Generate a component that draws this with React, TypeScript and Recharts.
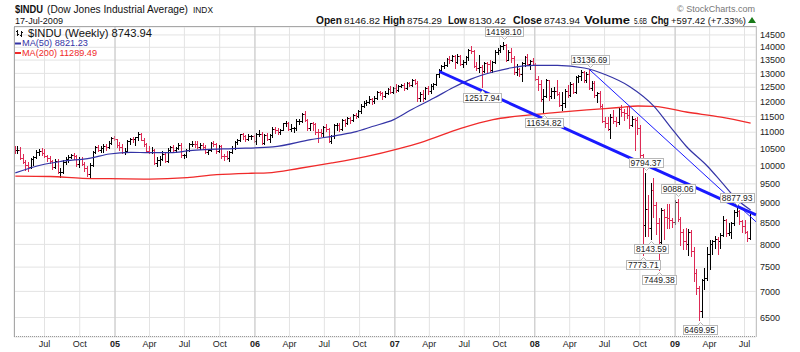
import React from 'react';
import {
  Bar,
  CartesianGrid,
  ComposedChart,
  Line,
  ReferenceDot,
  ReferenceLine,
  XAxis,
  YAxis,
} from 'recharts';

const FONT = 'Liberation Sans, Arial, sans-serif';
const UP_COLOR = '#000000';
const DOWN_COLOR = '#dd2a55';
const MA50_COLOR = '#3434a6';
const MA200_COLOR = '#f02a2a';
const TREND_COLOR = '#1a1aff';

// first weekly bar (Friday); one row per week after that
const FIRST_WEEK = '2004-04-16';

// weekly [open, high, low, close]
const weeks2004 = [
  [10480, 10560, 10380, 10451], [10451, 10570, 10380, 10472], [10472, 10520, 10220, 10225],
  [10225, 10340, 10100, 10117], [10117, 10160, 9900, 10012], [10012, 10090, 9860, 9966],
  [9966, 10220, 9950, 10188], [10188, 10270, 10050, 10242], [10242, 10440, 10230, 10410],
  [10410, 10480, 10340, 10416], [10416, 10500, 10340, 10371], [10371, 10460, 10260, 10282],
  [10282, 10300, 10160, 10213], [10213, 10260, 10090, 10140], [10140, 10150, 9920, 9962],
  [9962, 10170, 9940, 10140], [10140, 10190, 9800, 9815], [9815, 9930, 9710, 9825],
  [9825, 10140, 9810, 10111], [10111, 10230, 10070, 10195], [10195, 10300, 10120, 10260],
  [10260, 10340, 10230, 10314], [10314, 10360, 10200, 10284], [10284, 10290, 10020, 10047],
  [10047, 10230, 9990, 10192], [10192, 10240, 10040, 10055], [10055, 10090, 9880, 9933],
  [9933, 9990, 9740, 9758], [9758, 10060, 9710, 10027], [10027, 10400, 10020, 10387],
  [10387, 10560, 10370, 10539], [10539, 10580, 10440, 10457], [10457, 10560, 10420, 10522],
  [10522, 10610, 10420, 10592], [10592, 10630, 10470, 10543], [10543, 10710, 10530, 10661],
  [10661, 10840, 10650, 10828], [10828, 10870, 10760, 10783],
];

const weeks2005 = [
  [10783, 10790, 10570, 10603], [10603, 10670, 10480, 10558], [10558, 10620, 10390, 10393],
  [10393, 10500, 10360, 10427], [10427, 10730, 10420, 10716], [10716, 10800, 10660, 10796],
  [10796, 10840, 10720, 10785], [10785, 10850, 10610, 10841], [10841, 10980, 10780, 10941],
  [10941, 10960, 10760, 10774], [10774, 10800, 10600, 10630], [10630, 10660, 10420, 10442],
  [10442, 10560, 10370, 10404], [10404, 10520, 10380, 10461], [10461, 10470, 10070, 10088],
  [10088, 10230, 10000, 10157], [10157, 10260, 10050, 10193], [10193, 10400, 10180, 10345],
  [10345, 10370, 10120, 10140], [10140, 10490, 10120, 10471], [10471, 10560, 10450, 10542],
  [10542, 10580, 10430, 10460], [10460, 10540, 10400, 10513], [10513, 10650, 10490, 10623],
  [10623, 10640, 10280, 10297], [10297, 10330, 10250, 10303], [10303, 10470, 10260, 10449],
  [10449, 10660, 10440, 10640], [10640, 10720, 10590, 10651], [10651, 10720, 10570, 10641],
  [10641, 10710, 10540, 10558], [10558, 10660, 10510, 10600], [10600, 10640, 10500, 10559],
  [10559, 10580, 10380, 10397], [10397, 10480, 10360, 10447], [10447, 10690, 10440, 10679],
  [10679, 10720, 10590, 10641], [10641, 10650, 10380, 10420], [10420, 10590, 10400, 10569],
  [10569, 10600, 10250, 10292], [10292, 10340, 10170, 10287], [10287, 10420, 10200, 10215],
  [10215, 10420, 10140, 10403], [10403, 10550, 10390, 10531], [10531, 10700, 10500, 10686],
  [10686, 10790, 10640, 10766], [10766, 10940, 10750, 10931], [10931, 10960, 10810, 10878],
  [10878, 10900, 10740, 10779], [10779, 10920, 10760, 10876], [10876, 10910, 10820, 10883],
  [10883, 10900, 10710, 10718],
];

const weeks2006 = [
  [10718, 10970, 10660, 10959], [10959, 11050, 10890, 10960], [10960, 10990, 10660, 10668],
  [10668, 10930, 10640, 10908], [10908, 10960, 10770, 10794], [10794, 10940, 10710, 10920],
  [10920, 11140, 10860, 11116], [11116, 11140, 10980, 11062], [11062, 11120, 10960, 11022],
  [11022, 11100, 10960, 11077], [11077, 11290, 11070, 11280], [11280, 11330, 11210, 11280],
  [11280, 11320, 11100, 11109], [11109, 11240, 11060, 11120], [11120, 11150, 11010, 11137],
  [11137, 11400, 11090, 11347], [11347, 11400, 11260, 11367], [11367, 11590, 11340, 11578],
  [11578, 11670, 11370, 11381], [11381, 11390, 11080, 11144], [11144, 11290, 11070, 11278],
  [11278, 11320, 11100, 11247], [11247, 11260, 10960, 11001], [11001, 11070, 10700, 10999],
  [10999, 11070, 10890, 10989], [10989, 11190, 10880, 11150], [11150, 11240, 11050, 11091],
  [11091, 11110, 10720, 10739], [10739, 10900, 10680, 10868], [10868, 11250, 10850, 11220],
  [11220, 11290, 11100, 11241], [11241, 11270, 11040, 11088], [11088, 11400, 11080, 11382],
  [11382, 11400, 11210, 11285], [11285, 11480, 11270, 11464], [11464, 11470, 11310, 11393],
  [11393, 11580, 11380, 11560], [11560, 11600, 11460, 11508], [11508, 11700, 11490, 11679],
  [11679, 11890, 11650, 11867], [11867, 11990, 11830, 11961], [11961, 12050, 11900, 12002],
  [12002, 12170, 11980, 12091], [12091, 12110, 11930, 12032], [12032, 12160, 11980, 12108],
  [12108, 12350, 12090, 12343], [12343, 12360, 12240, 12280], [12280, 12310, 12100, 12194],
  [12194, 12340, 12190, 12307], [12307, 12470, 12290, 12446], [12446, 12520, 12330, 12344],
  [12344, 12500, 12330, 12463],
];

const weeks2007 = [
  [12463, 12590, 12350, 12398], [12398, 12560, 12380, 12556], [12556, 12610, 12510, 12566],
  [12566, 12620, 12420, 12487], [12487, 12670, 12440, 12653], [12653, 12680, 12560, 12581],
  [12581, 12780, 12560, 12768], [12768, 12790, 12620, 12648], [12648, 12700, 12050, 12114],
  [12114, 12330, 12040, 12277], [12277, 12370, 12040, 12111], [12111, 12490, 12090, 12481],
  [12481, 12520, 12290, 12354], [12354, 12580, 12320, 12560], [12560, 12640, 12450, 12612],
  [12612, 12970, 12600, 12962], [12962, 13140, 12900, 13121], [13121, 13290, 13080, 13264],
  [13264, 13420, 13210, 13327], [13327, 13560, 13290, 13556], [13556, 13640, 13400, 13507],
  [13507, 13690, 13470, 13668], [13668, 13690, 13230, 13424], [13424, 13700, 13400, 13640],
  [13640, 13690, 13340, 13361], [13361, 13480, 13250, 13409], [13409, 13620, 13380, 13611],
  [13611, 13930, 13520, 13908], [13908, 14020, 13780, 13851], [13851, 13890, 13240, 13266],
  [13266, 13420, 13150, 13182], [13182, 13660, 13080, 13240], [13240, 13300, 12517.94, 13079],
  [13079, 13400, 13060, 13379], [13379, 13420, 13040, 13358], [13358, 13480, 13100, 13113],
  [13113, 13460, 13060, 13442], [13442, 13870, 13420, 13820], [13820, 13950, 13760, 13896],
  [13896, 14080, 13850, 14066], [14066, 14198.1, 13970, 14093], [14093, 14100, 13500, 13522],
  [13522, 13880, 13510, 13807], [13807, 13950, 13450, 13596], [13596, 13620, 13000, 13043],
  [13043, 13340, 12950, 13177], [13177, 13200, 12940, 12981], [12981, 13400, 12740, 13372],
  [13372, 13640, 13300, 13626], [13626, 13730, 13320, 13340], [13340, 13470, 13170, 13451],
  [13451, 13560, 13360, 13366],
];

const weeks2008 = [
  [13366, 13370, 12790, 12801], [12801, 12900, 12420, 12607], [12607, 12740, 12050, 12100],
  [12100, 12430, 11634.82, 12207], [12207, 12780, 12170, 12743], [12743, 12750, 12080, 12183],
  [12183, 12440, 12150, 12349], [12349, 12480, 12150, 12381], [12381, 12740, 12260, 12266],
  [12266, 12300, 11860, 11894], [11894, 12300, 11730, 11951], [11951, 12420, 11850, 12361],
  [12361, 12550, 12190, 12216], [12216, 12650, 12200, 12609], [12609, 12630, 12300, 12325],
  [12325, 12880, 12300, 12849], [12849, 12930, 12700, 12891], [12891, 13100, 12780, 13058],
  [13058, 13070, 12710, 12745], [12745, 13030, 12700, 12986], [12986, 13136.69, 12460, 12480],
  [12480, 12700, 12430, 12638], [12638, 12700, 12180, 12209], [12209, 12330, 12000, 12307],
  [12307, 12340, 11830, 11843], [11843, 11900, 11330, 11346], [11346, 11480, 11180, 11288],
  [11288, 11460, 11090, 11101], [11101, 11570, 10827, 11496], [11496, 11700, 11300, 11370],
  [11370, 11470, 11220, 11326], [11326, 11790, 11290, 11734], [11734, 11870, 11540, 11659],
  [11659, 11740, 11400, 11628], [11628, 11790, 11470, 11544], [11544, 11790, 11150, 11220],
  [11220, 11500, 11200, 11422], [11422, 11430, 10460, 11388], [11388, 11470, 10970, 11143],
  [11143, 11200, 10270, 10325], [10325, 10330, 7773.71, 8451], [8451, 9794.37, 8200, 8852],
  [8852, 9200, 8200, 8378], [8378, 9500, 8143.59, 9325], [9325, 9650, 8650, 8943],
  [8943, 9000, 8250, 8497], [8497, 8600, 7449.38, 8046], [8046, 8860, 7990, 8829],
  [8829, 8830, 8140, 8635], [8635, 8970, 8400, 8629], [8629, 8950, 8400, 8579],
  [8579, 8600, 8410, 8515],
];

const weeks2009 = [
  [8515, 9060, 8480, 9034], [9034, 9088.06, 8560, 8599], [8599, 8640, 8000, 8281],
  [8281, 8350, 7900, 8077], [8077, 8370, 7910, 8000], [8000, 8340, 7780, 8280],
  [8280, 8320, 7750, 7850], [7850, 7920, 7230, 7366], [7366, 7450, 6950, 7063],
  [7063, 7100, 6469.95, 6627], [6627, 7240, 6520, 7224], [7224, 7480, 7050, 7279],
  [7279, 7930, 7250, 7776], [7776, 8080, 7470, 8018], [8018, 8100, 7800, 8083],
  [8083, 8170, 7920, 8131], [8131, 8150, 7800, 8076], [8076, 8260, 7920, 8212],
  [8212, 8650, 8200, 8575], [8575, 8590, 8200, 8268], [8268, 8480, 8220, 8277],
  [8277, 8520, 8150, 8500], [8500, 8800, 8460, 8764], [8764, 8877.93, 8680, 8799],
  [8799, 8800, 8480, 8539], [8539, 8560, 8300, 8438], [8438, 8570, 8270, 8280],
  [8280, 8290, 8090, 8146], [8146.82, 8754.29, 8130.42, 8743.94],
];

// moving averages at a handful of weeks (week index -> value)
const ma50Weeks = [0, 10, 17, 28, 35, 43, 50, 58, 65, 71, 81, 96, 110, 121, 127, 133, 141, 147, 156, 163, 170, 178, 185, 193, 202, 212, 220, 229, 238, 244, 250, 258, 263, 269, 274];
const ma50Values = [9800, 10030, 10125, 10220, 10340, 10390, 10380, 10380, 10440, 10470, 10500, 10550, 10770, 10920, 11020, 11180, 11400, 11700, 12120, 12480, 12800, 13050, 13210, 13300, 13300, 13200, 12950, 12520, 11840, 11180, 10570, 9980, 9560, 9080, 8821.23];
const ma200Weeks = [0, 13, 25, 35, 50, 64, 75, 88, 94, 106, 118, 131, 143, 151, 166, 178, 191, 200, 213, 225, 232, 238, 250, 263, 274];
const ma200Values = [9710, 9700, 9650, 9640, 9630, 9670, 9750, 9790, 9800, 9930, 10080, 10270, 10500, 10680, 11120, 11400, 11550, 11620, 11720, 11800, 11850, 11840, 11650, 11480, 11289.49];

const yTicks = [6500, 7000, 7500, 8000, 8500, 9000, 9500, 10000, 10500, 11000, 11500, 12000, 12500, 13000, 13500, 14000, 14500];
const xTickDates = [
  '2004-07-01', '2004-10-01', '2005-01-01', '2005-04-01', '2005-07-01', '2005-10-01',
  '2006-01-01', '2006-04-01', '2006-07-01', '2006-10-01', '2007-01-01', '2007-04-01',
  '2007-07-01', '2007-10-01', '2008-01-01', '2008-04-01', '2008-07-01', '2008-10-01',
  '2009-01-01', '2009-04-01', '2009-07-01',
];
const xTickLabels = ['Jul', 'Oct', '05', 'Apr', 'Jul', 'Oct', '06', 'Apr', 'Jul', 'Oct', '07', 'Apr', 'Jul', 'Oct', '08', 'Apr', 'Jul', 'Oct', '09', 'Apr', 'Jul'];
const yearStarts = ['2005-01-01', '2006-01-01', '2007-01-01', '2008-01-01', '2009-01-01'];

// price labels drawn by StockCharts at the swing points
const callouts = [
  { week: 182, value: 14198.1, below: false },
  { week: 174, value: 12517.94, below: true },
  { week: 197, value: 11634.82, below: true },
  { week: 214, value: 13136.69, below: false },
  { week: 235, value: 9794.37, below: false },
  { week: 234, value: 7773.71, below: true },
  { week: 237, value: 8143.59, below: true },
  { week: 240, value: 7449.38, below: true },
  { week: 247, value: 9088.06, below: false },
  { week: 255, value: 6469.95, below: true },
  { week: 269, value: 8877.93, below: false },
];

// hand-drawn trendlines: start at a week, run to the right edge
const thickTrend = { week: 158, from: 13070, to: 8700 };
const thinTrend = { week: 214, from: 13136.69, to: 8530 };

const dayOf = (s: string) => {
  const [y, m, d] = s.split('-').map(Number);
  return (Date.UTC(y, m - 1, d) - Date.UTC(2004, 0, 1)) / 86400000;
};

const X_START = 102.5;
const X_END = 2038;
const Y_DOMAIN = [6150, 14830];

const weeklyBars = [...weeks2004, ...weeks2005, ...weeks2006, ...weeks2007, ...weeks2008, ...weeks2009];
const firstDay = dayOf(FIRST_WEEK);
const weekDay = (i: number) => firstDay + 7 * i;
const ma50ByWeek = new Map(ma50Weeks.map((w, k) => [w, ma50Values[k]]));
const ma200ByWeek = new Map(ma200Weeks.map((w, k) => [w, ma200Values[k]]));

const rows = weeklyBars.map(([open, high, low, close], i) => ({
  t: weekDay(i),
  open,
  high,
  low,
  close,
  range: [low, high],
  up: close >= (i > 0 ? weeklyBars[i - 1][3] : open),
  ma50: ma50ByWeek.get(i) ?? null,
  ma200: ma200ByWeek.get(i) ?? null,
}));

const xTicks = xTickDates.map(dayOf);
const labelByDay = new Map(xTicks.map((d, k) => [d, xTickLabels[k]]));

function OhlcBar(props: any) {
  const { x, y, width, height, payload } = props;
  if (!payload || !Number.isFinite(y) || !Number.isFinite(height)) return null;
  const top = Math.min(y, y + height);
  const bottom = Math.max(y, y + height);
  const lh = Math.log(payload.high);
  const span = lh - Math.log(payload.low);
  const at = (v: number) => (span > 0 ? top + ((bottom - top) * (lh - Math.log(v))) / span : top);
  const col = Math.round(x + width / 2 - 0.5);
  const ro = Math.round(at(payload.open)) + 0.5;
  const rc = Math.round(at(payload.close)) + 0.5;
  return (
    <g stroke={payload.up ? UP_COLOR : DOWN_COLOR} strokeWidth={1} shapeRendering="crispEdges">
      <line x1={col + 0.5} x2={col + 0.5} y1={Math.floor(top)} y2={Math.ceil(bottom) + 1} />
      <line x1={col - 1} x2={col} y1={ro} y2={ro} />
      <line x1={col + 1} x2={col + 2} y1={rc} y2={rc} />
    </g>
  );
}

function Callout(props: any) {
  const { cx, cy, text, below } = props;
  if (!Number.isFinite(cx) || !Number.isFinite(cy)) return null;
  const fs = 8.5;
  const digits = text.replace(/[^0-9]/g, '').length;
  const w = Math.round(digits * 0.556 * fs + 0.278 * fs + 3);
  const h = 9;
  const left = Math.round(cx - w / 2) + 0.5;
  const top = Math.round(below ? cy + 6 : cy - 6 - h) + 0.5;
  const c = Math.round(cx) + 0.5;
  const tip = below
    ? `${c - 3},${top} ${c},${top - 3} ${c + 3},${top}`
    : `${c - 3},${top + h} ${c},${top + h + 3} ${c + 3},${top + h}`;
  return (
    <g>
      <rect x={left} y={top} width={w} height={h} fill="#ffffff" stroke="#b8b8b8" />
      <polyline points={tip} fill="#ffffff" stroke="#b8b8b8" />
      <text x={cx} y={top + 7.5} textAnchor="middle" fontSize={fs} fontFamily={FONT} fill="#222">
        {text}
      </text>
    </g>
  );
}

function XTick(props: any) {
  const { x, y, payload } = props;
  const label = labelByDay.get(payload.value) ?? '';
  const isYear = /^\d/.test(label);
  return (
    <text x={x} y={y + 6} textAnchor="middle" fontSize={9} fontFamily={FONT} fontWeight={isYear ? 'bold' : 'normal'} fill="#222">
      {label}
    </text>
  );
}

function Header() {
  const t = (x: number, y: number, s: string, len: number, size: number, extra: any = {}) => (
    <text x={x} y={y} fontSize={size} fontFamily={FONT} textLength={len} lengthAdjust="spacingAndGlyphs" fill="#111" {...extra}>
      {s}
    </text>
  );
  const stats = [
    ['Open', 316, 26, true], ['8146.82', 344, 36, false],
    ['High', 383, 22, true], ['8754.29', 407, 35, false],
    ['Low', 448, 19, true], ['8130.42', 469, 37, false],
    ['Close', 513, 29, true], ['8743.94', 544, 36, false],
    ['Volume', 584, 46, true], ['5.6B', 634, 13, false],
    ['Chg', 651, 18, true], ['+597.42 (+7.33%)', 671, 75, false],
  ] as const;
  return (
    <svg width={800} height={352} style={{ position: 'absolute', left: 0, top: 0, pointerEvents: 'none' }}>
      {t(15, 13, '$INDU', 28, 10.5, { fontWeight: 'bold' })}
      {t(47, 12.5, '(Dow Jones Industrial Average)', 141, 10)}
      {t(193, 12.5, 'INDX', 20, 8.5)}
      {t(15, 23.5, '17-Jul-2009', 48, 9)}
      {t(677, 12, '\u00a9 StockCharts.com', 78, 9, { fill: '#777' })}
      {stats.map(([s, x, len, bold]) =>
        <React.Fragment key={s}>{t(x, 23.5, s, len, bold ? 10 : 9, bold ? { fontWeight: 'bold' } : {})}</React.Fragment>
      )}
      <polygon points="748,23 752,17 756,23" fill="#1a7a1a" />
      {/* plot frame */}
      <line x1={14} x2={756} y1={26.5} y2={26.5} stroke="#a8a8a8" />
      <line x1={14.5} x2={14.5} y1={26.5} y2={337} stroke="#a8a8a8" />
      <line x1={14} x2={756} y1={336.5} y2={336.5} stroke="#999" strokeDasharray="1 1" />
      <line x1={756.5} x2={756.5} y1={26.5} y2={337} stroke="#999" strokeDasharray="1 1" />
      {/* legend */}
      <g stroke="#111" strokeWidth={1} shapeRendering="crispEdges">
        <line x1={17.5} x2={17.5} y1={30} y2={36} />
        <line x1={16} x2={17} y1={31.5} y2={31.5} />
        <line x1={18} x2={19} y1={34.5} y2={34.5} />
        <line x1={21.5} x2={21.5} y1={31} y2={37} />
        <line x1={20} x2={21} y1={35.5} y2={35.5} />
        <line x1={22} x2={23} y1={32.5} y2={32.5} />
      </g>
      {t(28, 36.5, '$INDU (Weekly) 8743.94', 124, 10)}
      <line x1={15} x2={21} y1={43.5} y2={43.5} stroke={MA50_COLOR} strokeWidth={2} />
      {t(22, 46, 'MA(50) 8821.23', 66, 9, { fill: MA50_COLOR })}
      <line x1={15} x2={21} y1={53} y2={53} stroke={MA200_COLOR} strokeWidth={2} />
      {t(22, 55.5, 'MA(200) 11289.49', 75, 9, { fill: MA200_COLOR })}
    </svg>
  );
}

export default function App() {
  return (
    <div style={{ position: 'absolute', left: 0, top: 0, width: 800, height: 352, background: '#fff' }}>
      <ComposedChart width={800} height={352} data={rows} margin={{ top: 27, right: 0, bottom: 0, left: 14 }}>
        <CartesianGrid stroke="#e3e3e3" />
        <XAxis
          type="number"
          dataKey="t"
          domain={[X_START, X_END]}
          allowDataOverflow
          ticks={xTicks}
          interval={0}
          tick={<XTick />}
          tickSize={0}
          tickMargin={4}
          axisLine={false}
          height={15}
        />
        <YAxis
          orientation="right"
          type="number"
          scale="log"
          domain={Y_DOMAIN}
          allowDataOverflow
          ticks={yTicks}
          interval={0}
          tickSize={0}
          tickMargin={4}
          axisLine={false}
          width={44}
          tick={{ fontSize: 9, fill: '#222', fontFamily: FONT }}
        />
        {yearStarts.map((d) => (
          <ReferenceLine key={d} x={dayOf(d)} stroke="#c8c8c8" />
        ))}
        <Line dataKey="ma200" type="monotone" connectNulls dot={false} stroke={MA200_COLOR} strokeWidth={1.3} isAnimationActive={false} />
        <Line dataKey="ma50" type="monotone" connectNulls dot={false} stroke={MA50_COLOR} strokeWidth={1.2} isAnimationActive={false} />
        <Bar dataKey="range" barSize={3} shape={(p: any) => <OhlcBar {...p} />} isAnimationActive={false} />
        <ReferenceLine
          segment={[{ x: weekDay(thickTrend.week), y: thickTrend.from }, { x: X_END, y: thickTrend.to }]}
          stroke={TREND_COLOR}
          strokeWidth={3}
        />
        <ReferenceLine
          segment={[{ x: weekDay(thinTrend.week), y: thinTrend.from }, { x: X_END, y: thinTrend.to }]}
          stroke={TREND_COLOR}
          strokeWidth={1}
        />
        {callouts.map((c) => (
          <ReferenceDot
            key={c.value}
            x={weekDay(c.week)}
            y={c.value}
            r={0}
            shape={(p: any) => <Callout {...p} text={c.value.toFixed(2)} below={c.below} />}
          />
        ))}
      </ComposedChart>
      <Header />
    </div>
  );
}
